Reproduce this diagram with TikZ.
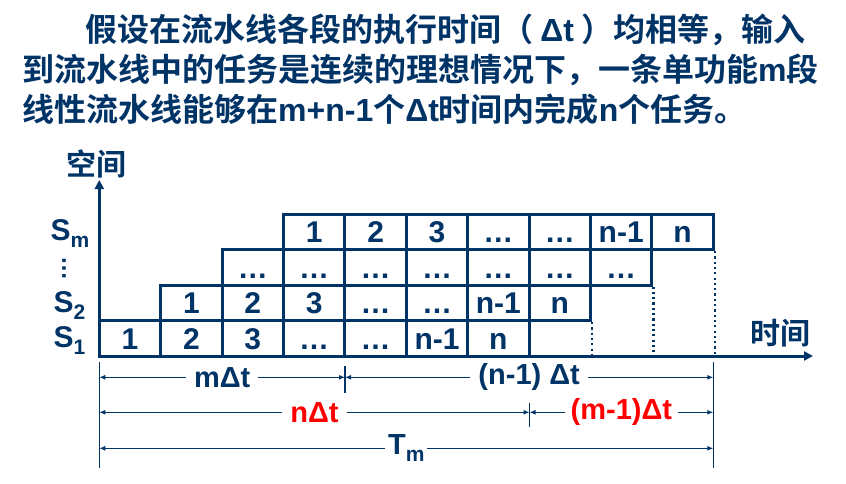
\documentclass[tikz,border=0pt]{standalone}
\usepackage{fontspec}
\setmainfont{Liberation Sans}[BoldFont={Liberation Sans Bold}]
\newfontfamily\cjk{Noto Sans CJK SC}[BoldFont={Noto Sans CJK SC Bold}]
\usetikzlibrary{arrows.meta}
\definecolor{deepblue}{RGB}{0,51,102}

\begin{document}
\begin{tikzpicture}[x=1pt, y=-1pt,
    title/.style={inner sep=0pt, anchor=base west, text=deepblue, font=\fontsize{32}{32}\selectfont\bfseries},
    cell/.style={draw=deepblue, line width=3pt, minimum width=61.4pt, minimum height=35.5pt, inner sep=0pt, text height=21.5pt, text depth=0pt, text=deepblue, font=\fontsize{30}{30}\selectfont\bfseries},
    axis/.style={draw=deepblue, line width=3pt, -{Triangle[length=9pt,width=9pt]}},
    axlabel/.style={inner sep=0pt, text=deepblue, font=\fontsize{30}{30}\selectfont\bfseries},
    stage/.style={inner sep=0pt, anchor=base west, text=deepblue, font=\fontsize{30}{30}\selectfont\bfseries},
    dotline/.style={draw=deepblue, line width=2.4pt, dash pattern=on 2.2pt off 3.1pt},
    dimline/.style={draw=deepblue, line width=1.2pt, {Latex[length=6pt,width=5pt]}-{Latex[length=6pt,width=5pt]}},
    tick/.style={draw=deepblue, line width=1.2pt},
    dimlabel/.style={fill=white, inner xsep=8pt, inner ysep=0pt, text=deepblue, font=\fontsize{29}{29}\selectfont\bfseries}
]
    \useasboundingbox[fill=white] (0,0) rectangle (846,484);

    % text above the chart
    \node[title] (line1) at (85,42) {\cjk 假设在流水线各段的执行时间（ {\rmfamily Δt} ）均相等，输入};
    \node[title] (line2) at (22,81.7) {{\cjk 到流水线中的任务是连续的理想情况下，一条单功能}m{\cjk 段}};
    \node[title] (line3) at (22,121.5) {{\cjk 线性流水线能够在}m+n-1{\cjk 个}Δt{\cjk 时间内完成}n{\cjk 个任务。}};

    % stages S1 .. Sm
    \foreach \t [count=\i from 0] in {1,2,3,…,…,n-1,n}
        \node[cell] (r1c\i) at ({130+61.4*\i},338.25) {\t};
    \foreach \t [count=\i from 1] in {1,2,3,…,…,n-1,n}
        \node[cell] (r2c\i) at ({130+61.4*\i},302.75) {\t};
    \foreach \t [count=\i from 2] in {…,…,…,…,…,…,…}
        \node[cell] (r3c\i) at ({130+61.4*\i},267.25) {\t};
    \foreach \t [count=\i from 3] in {1,2,3,…,…,n-1,n}
        \node[cell] (r4c\i) at ({130+61.4*\i},231.75) {\t};

    \node[stage] (sm) at (50.5,240) {S\raisebox{-7pt}{\fontsize{21}{21}\selectfont m}};
    \node[inner sep=0pt, rotate=90, text=deepblue, font=\fontsize{24}{24}\selectfont\bfseries] (vdots) at (64,268.5) {…};
    \node[stage] (s2) at (53.5,312) {S\raisebox{-7pt}{\fontsize{21}{21}\selectfont 2}};
    \node[stage] (s1) at (53.5,347) {S\raisebox{-7pt}{\fontsize{21}{21}\selectfont 1}};

    % axes
    \coordinate (O) at (99.3,356);
    \coordinate (ytip) at (99.3,180);
    \coordinate (xtip) at (813,356);
    \draw[axis] (O) -- (ytip);
    \draw[axis] (O) -- (xtip);
    \node[axlabel] (space) at (96,163.5) {\cjk 空间};
    \node[axlabel] (time) at (780,333) {\cjk 时间};

    \draw[dotline] (r2c7.south east) -- (r2c7.south east |- O);
    \draw[dotline] (r3c8.south east) -- (r3c8.south east |- O);
    \draw[dotline] (r4c9.south east) -- (r4c9.south east |- O);

    % time spans
    \coordinate (k0top) at (99.3,361.7);
    \coordinate (k0bot) at (99.3,468);
    \coordinate (k4top) at (345,366);
    \coordinate (k4bot) at (345,392.7);
    \coordinate (k7top) at (529.5,402.7);
    \coordinate (k7bot) at (529.5,427);
    \coordinate (k10top) at (713.3,361.7);
    \coordinate (k10bot) at (713.3,468);
    \draw[tick] (k0top) -- (k0bot);
    \draw[tick] (k4top) -- (k4bot);
    \draw[tick] (k7top) -- (k7bot);
    \draw[tick] (k10top) -- (k10bot);

    \coordinate (a0) at (99.3,377.3);
    \coordinate (a4) at (345,377.3);
    \coordinate (a10) at (713.3,377.3);
    \draw[dimline] (a0) -- node[dimlabel] (mdt) {mΔt} (a4);
    \draw[dimline] (a4) -- node[dimlabel] (n1dt) {(n-1) Δt} (a10);

    \coordinate (b0) at (99.3,412.3);
    \coordinate (b7) at (529.5,412.3);
    \coordinate (b10) at (713.3,412.3);
    \draw[dimline] (b0) -- node[dimlabel, text=red] (ndt) {nΔt} (b7);
    \draw[dimline] (b7) -- node[dimlabel, text=red, inner xsep=6pt] (m1dt) {(m-1)Δt} (b10);

    \coordinate (c0) at (99.3,448.3);
    \coordinate (c10) at (713.3,448.3);
    \draw[dimline] (c0) -- node[dimlabel, inner xsep=3pt] (tm) {T\raisebox{-7pt}{\fontsize{21}{21}\selectfont m}} (c10);
\end{tikzpicture}
\end{document}
